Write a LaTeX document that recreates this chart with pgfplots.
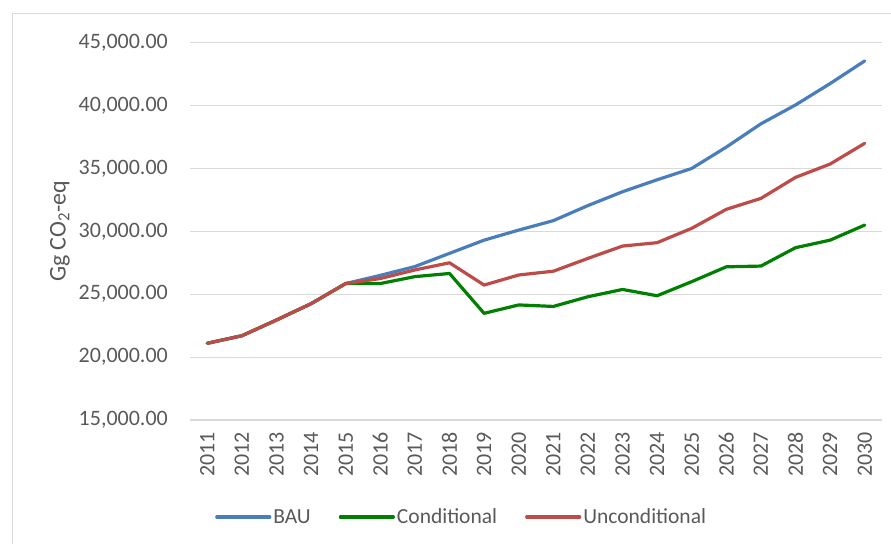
\documentclass[border=0pt]{standalone}
\usepackage{fontspec}
\setmainfont{Carlito}
\usepackage{pgfplots}
\pgfplotsset{compat=1.18}
\definecolor{bau}{RGB}{74,126,187}
\definecolor{cond}{RGB}{0,128,0}
\definecolor{uncond}{RGB}{190,75,72}
\definecolor{gridc}{RGB}{217,217,217}
\definecolor{txt}{RGB}{89,89,89}
\begin{document}
\begin{tikzpicture}[x=1pt,y=1pt]
\path[use as bounding box] (0,0) rectangle (891,544);
\draw[color=gridc,line width=1pt] (12,0) -- (12,530) -- (891,530);
\begin{axis}[
  at={(190pt,124pt)}, anchor=south west,
  scale only axis, width=692pt, height=377.3pt,
  xmin=-0.5, xmax=19.5, ymin=15000, ymax=45000,
  ytick={15000,20000,25000,30000,35000,40000,45000},
  xtick={0,...,19},
  xticklabels={2011,2012,2013,2014,2015,2016,2017,2018,2019,2020,2021,2022,2023,2024,2025,2026,2027,2028,2029,2030},
  scaled y ticks=false,
  axis line style={draw=none},
  major tick length=0pt,
  ymajorgrids, grid style={color=gridc, line width=1.2pt},
  yticklabel style={font=\fontsize{22}{26}\selectfont, color=txt, anchor=east, inner sep=0pt,
    /pgf/number format/fixed, /pgf/number format/fixed zerofill, /pgf/number format/precision=2,
    /pgf/number format/1000 sep={,}, /pgf/number format/assume math mode=true},
  yticklabel shift=22pt,
  xticklabel style={font=\fontsize{22}{26}\selectfont, color=txt, rotate=90, anchor=east, inner sep=0pt},
  xticklabel shift=12pt,
  ylabel={Gg CO\textsubscript{2}-eq},
  every axis y label/.style={at={(axis description cs:-0.1879,0.5)}, rotate=90, anchor=center,
    font=\fontsize{24}{28}\selectfont, text=txt},
  legend columns=3,
  legend style={at={(axis description cs:0.0361,-0.257)}, anchor=west, draw=none, fill=none,
    font=\fontsize{21.5}{26}\selectfont, text=txt, inner sep=0pt,
    /tikz/every even column/.append style={column sep=26pt}},
  legend image code/.code={\draw[#1] (0pt,0pt) -- (53pt,0pt);},
  legend cell align=left,
  every axis plot/.append style={line width=3.2pt, line join=round, line cap=round},
]
\addplot[color=bau] coordinates {(0,21100)(1,21700)(2,22950)(3,24250)(4,25850)(5,26500)(6,27200)(7,28250)(8,29300)(9,30100)(10,30850)(11,32050)(12,33150)(13,34100)(14,35000)(15,36700)(16,38550)(17,40050)(18,41750)(19,43550)};
\addlegendentry{BAU}
\addplot[color=cond] coordinates {(0,21100)(1,21700)(2,22950)(3,24250)(4,25850)(5,25850)(6,26400)(7,26650)(8,23480)(9,24150)(10,24030)(11,24800)(12,25380)(13,24880)(14,26000)(15,27180)(16,27240)(17,28700)(18,29300)(19,30500)};
\addlegendentry{Conditional}
\addplot[color=uncond] coordinates {(0,21100)(1,21700)(2,22950)(3,24250)(4,25850)(5,26250)(6,26930)(7,27500)(8,25730)(9,26530)(10,26830)(11,27850)(12,28830)(13,29100)(14,30240)(15,31750)(16,32620)(17,34290)(18,35350)(19,37000)};
\addlegendentry{Unconditional}
\end{axis}
\end{tikzpicture}
\end{document}
